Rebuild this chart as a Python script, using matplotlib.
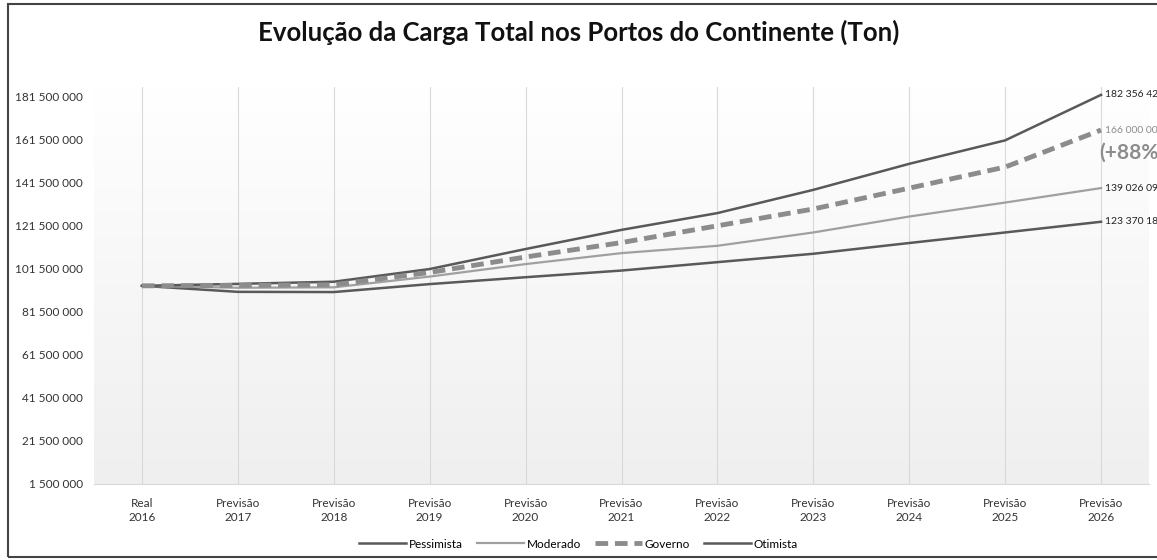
import numpy as np
import matplotlib
matplotlib.use('Agg')
import matplotlib.pyplot as plt
from matplotlib.patches import Rectangle

plt.rcParams['font.family'] = ['Lato', 'DejaVu Sans']

categories = ['Real\n2016', 'Previsão\n2017', 'Previsão\n2018', 'Previsão\n2019', 'Previsão\n2020',
              'Previsão\n2021', 'Previsão\n2022', 'Previsão\n2023', 'Previsão\n2024', 'Previsão\n2025',
              'Previsão\n2026']

pessimista = [93.6, 90.8, 90.7, 94.4, 97.6, 100.7, 104.6, 108.5, 113.5, 118.4, 123.370183]
moderado = [93.6, 92.7, 92.9, 97.9, 103.7, 108.8, 112.2, 118.4, 125.8, 132.3, 139.026097]
governo = [93.6, 93.8, 94.1, 99.8, 107.0, 113.7, 121.5, 129.3, 139.0, 148.8, 166.0]
otimista = [93.6, 94.5, 95.5, 101.4, 110.7, 119.6, 127.4, 138.2, 150.3, 161.2, 182.356427]

end_labels = ['123 370 183', '139 026 097', '166 000 000', '182 356 427']

yticks = [1.5 + 20 * i for i in range(10)]

fig = plt.figure(figsize=(11.57, 5.6), dpi=100)
ax = fig.add_axes([94 / 1157, 1 - 484 / 560, (1149 - 94) / 1157, (484 - 87) / 560])

x = np.arange(len(categories))

# gradient background of the plot area
grad = np.linspace(1, 0, 256).reshape(-1, 1)
ax.imshow(grad, extent=[0, 1, 0, 1], transform=ax.transAxes, aspect='auto',
          cmap=matplotlib.colors.LinearSegmentedColormap.from_list('g', ['#efefef', '#ffffff']),
          zorder=0)

for xi in x:
    ax.axvline(xi, color='#d9d9d9', lw=0.8, zorder=1)

ax.plot(x, pessimista, color='#595959', lw=1.8, label='Pessimista', zorder=3)
ax.plot(x, moderado, color='#a0a0a0', lw=1.6, label='Moderado', zorder=3)
ax.plot(x, governo, color='#8c8c8c', lw=3.5, ls=(0, (2.6, 1.4)), label='Governo', zorder=4)
ax.plot(x, otimista, color='#595959', lw=1.8, label='Otimista', zorder=3)

ax.set_xlim(-0.5, 10.5)
ax.set_ylim(1.5, 186)
ax.set_yticks(yticks)
ax.set_yticklabels([f'{int(v * 1e6):,}'.replace(',', ' ') for v in yticks], fontsize=8.5, color='#333333')
ax.set_xticks(x)
ax.set_xticklabels(categories, fontsize=8.5, color='#333333', linespacing=1.3)
ax.tick_params(length=0, pad=10)
ax.tick_params(axis='y', pad=8)
for s in ['top', 'right', 'left']:
    ax.spines[s].set_visible(False)
ax.spines['bottom'].set_color('#d9d9d9')

# end labels (cut off at the right edge, as in the original)
for vals, lab, col in zip([pessimista, moderado, governo, otimista], end_labels,
                          ['#222222', '#222222', '#8c8c8c', '#222222']):
    ax.annotate(lab, (10, vals[-1]), xytext=(3, 0), textcoords='offset points',
                fontsize=7.5, color=col, va='center', ha='left', annotation_clip=False)
ax.annotate('(+88%)', (10, governo[-1]), xytext=(-1, -16), textcoords='offset points',
            fontsize=15, fontweight='bold', color='#8c8c8c', va='center', ha='left',
            annotation_clip=False)

fig.text(0.5, 1 - 32 / 560, 'Evolução da Carga Total nos Portos do Continente (Ton)',
         ha='center', va='center', fontsize=18.5, fontweight='bold', color='#111111')

fig.legend(loc='center', bbox_to_anchor=(0.5, 1 - 544 / 560), ncol=4, frameon=False,
           fontsize=8.5, handlelength=4, columnspacing=1.2, handletextpad=0.2)

fig.patches.append(Rectangle((8 / 1157, 3 / 560), 1.2, 553 / 560, transform=fig.transFigure,
                             fill=False, edgecolor='#444444', lw=1.5))

fig.savefig('out.png', dpi=100)
